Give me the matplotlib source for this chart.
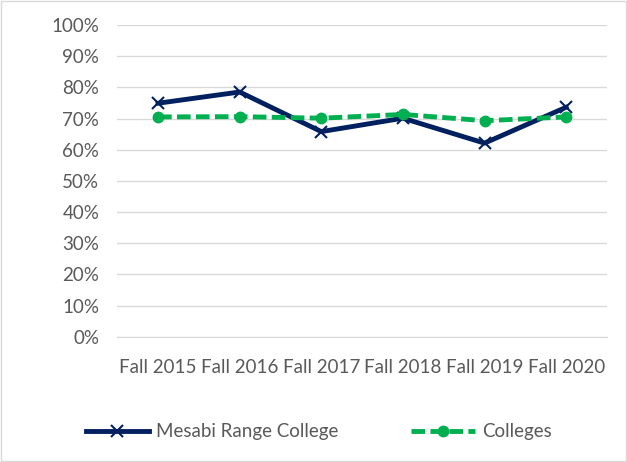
import matplotlib.pyplot as plt
from matplotlib.ticker import PercentFormatter

years = ["Fall 2015", "Fall 2016", "Fall 2017", "Fall 2018", "Fall 2019", "Fall 2020"]
mesabi = [74.9, 78.5, 65.8, 70.1, 62.1, 73.6]
colleges = [70.5, 70.6, 70.1, 71.3, 69.3, 70.5]

plt.rcParams['font.family'] = ['Lato', 'DejaVu Sans']
gray = '#595959'

fig = plt.figure(figsize=(6.27, 4.62), dpi=100)
ax = fig.add_axes([0.187, 0.271, 0.781, 0.675])

x = range(len(years))
ax.plot(x, mesabi, color='#002060', lw=3.5, marker='x', ms=9, mew=1.5,
        label='Mesabi Range College', zorder=3)
ax.plot(x, colleges, color='#00B050', lw=3.5, ls=(0, (2.8, 1.1)), marker='o', ms=7.5,
        label='Colleges', zorder=4)

ax.set_ylim(0, 100)
ax.set_yticks(range(0, 101, 10))
ax.yaxis.set_major_formatter(PercentFormatter(decimals=0))
ax.set_xlim(-0.5, len(years) - 0.5)
ax.set_xticks(list(x))
ax.set_xticklabels(years)
ax.grid(axis='y', color='#d9d9d9', lw=1)
ax.set_axisbelow(True)
for s in ['top', 'right', 'left']:
    ax.spines[s].set_visible(False)
ax.spines['bottom'].set_color('#d9d9d9')
ax.tick_params(length=0, labelsize=13.5, colors=gray)
ax.tick_params(axis='y', pad=13)
ax.tick_params(axis='x', pad=16)

leg = fig.legend(loc='center', bbox_to_anchor=(0.508, 0.065), ncol=2, frameon=False,
                 fontsize=13.5, handlelength=3.4, handletextpad=0.35, columnspacing=3.9,
                 labelcolor=gray)

# outer border
fig.patches.append(plt.Rectangle((0.002, 0.002), 0.996, 0.996, transform=fig.transFigure,
                                 fill=False, edgecolor='#d9d9d9', lw=1))

fig.savefig('out.png')
